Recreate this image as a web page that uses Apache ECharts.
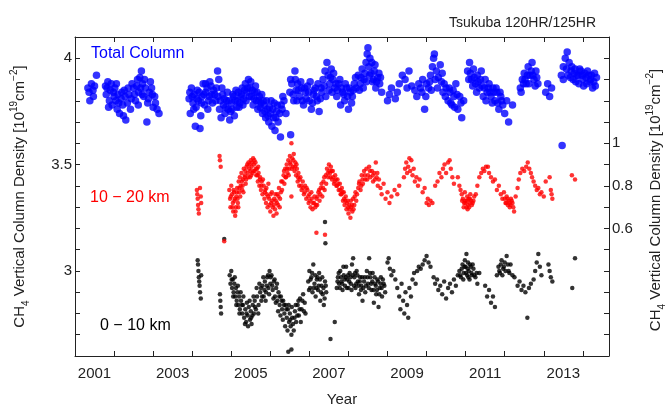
<!DOCTYPE html>
<html>
<head>
<meta charset="utf-8">
<script src="https://cdn.jsdelivr.net/npm/echarts@6/dist/echarts.min.js"></script>
<style>
  html, body { margin: 0; padding: 0; background: #fff; }
  #chart { width: 667px; height: 412px; }
</style>
</head>
<body>
<div id="chart"></div>
<script>
// tick positions and labels
const yearTicks = [2001, 2002, 2003, 2004, 2005, 2006, 2007, 2008, 2009, 2010, 2011, 2012, 2013, 2014];
const yearLabels = [2001, 2003, 2005, 2007, 2009, 2011, 2013];
const leftTickLabels = [3, 3.5, 4];
const rightTickLabels = [0.6, 0.8, 1];

// total column [year, 10^19 cm^-2] (left axis)
const totalColumn = [
  [2001.33,3.86],[2001.38,3.80],[2001.42,3.88],[2001.46,3.85],[2001.5,3.87],[2001.55,3.92],
  [2001.78,3.87],[2001.8,3.83],[2001.84,3.89],[2001.88,3.80],[2001.9,3.85],[2001.95,3.78],[2001.98,3.84],
  [2002.02,3.86],[2002.05,3.80],[2002.08,3.76],[2002.1,3.83],[2002.14,3.74],[2002.18,3.81],[2002.22,3.78],
  [2002.26,3.85],[2002.3,3.71],[2002.34,3.79],[2002.38,3.83],[2002.42,3.76],[2002.46,3.88],[2002.5,3.86],
  [2002.55,3.80],[2002.6,3.90],[2002.63,3.84],[2002.66,3.91],[2002.7,3.94],[2002.73,3.88],[2002.76,3.82],
  [2002.8,3.86],[2002.84,3.70],[2002.86,3.79],[2002.9,3.84],[2002.93,3.89],[2002.96,3.86],[2003.0,3.77],
  [2003.04,3.82],[2003.1,3.76],[2003.15,3.74],
  [2001.36,3.84],[2001.47,3.82],[2001.82,3.86],[2001.86,3.77],[2001.93,3.88],[2002.0,3.82],[2002.06,3.88],
  [2002.12,3.79],[2002.2,3.84],[2002.24,3.73],[2002.28,3.82],[2002.36,3.86],[2002.44,3.81],[2002.52,3.83],
  [2002.58,3.87],[2002.62,3.78],[2002.68,3.86],[2002.72,3.83],[2002.78,3.90],[2002.88,3.81],[2002.98,3.83],
  [2003.06,3.79],
  [2003.92,3.81],[2003.95,3.74],[2003.98,3.86],[2004.02,3.79],[2004.05,3.83],[2004.08,3.68],[2004.1,3.77],
  [2004.13,3.85],[2004.16,3.80],[2004.2,3.67],[2004.22,3.73],[2004.25,3.82],[2004.28,3.88],[2004.32,3.78],
  [2004.35,3.84],[2004.38,3.86],[2004.42,3.80],[2004.45,3.89],[2004.5,3.83],[2004.55,3.85],[2004.6,3.80],
  [2004.65,3.94],[2004.68,3.90],[2004.7,3.76],[2004.74,3.72],[2004.78,3.83],[2004.8,3.78],[2004.84,3.74],
  [2004.88,3.80],[2004.92,3.76],[2004.96,3.71],
  [2003.94,3.84],[2004.0,3.82],[2004.04,3.76],[2004.12,3.81],[2004.18,3.84],[2004.24,3.79],[2004.3,3.83],
  [2004.34,3.88],[2004.4,3.76],[2004.44,3.82],[2004.48,3.87],[2004.52,3.79],[2004.58,3.83],[2004.62,3.86],
  [2004.66,3.82],[2004.72,3.80],[2004.76,3.86],[2004.82,3.81],[2004.86,3.77],[2004.9,3.84],[2004.94,3.80],
  [2004.98,3.75],
  [2005.0,3.79],[2005.04,3.83],[2005.08,3.73],[2005.12,3.85],[2005.16,3.80],[2005.2,3.77],[2005.24,3.82],
  [2005.28,3.86],[2005.32,3.81],[2005.36,3.88],[2005.4,3.84],[2005.44,3.90],[2005.48,3.86],[2005.52,3.82],
  [2005.56,3.78],[2005.6,3.84],[2005.64,3.80],[2005.68,3.76],[2005.72,3.82],[2005.76,3.79],[2005.8,3.74],
  [2005.84,3.78],[2005.88,3.72],[2005.92,3.76],
  [2005.02,3.76],[2005.06,3.82],[2005.1,3.80],[2005.14,3.77],[2005.18,3.84],[2005.22,3.79],[2005.26,3.83],
  [2005.3,3.78],[2005.34,3.85],[2005.38,3.80],[2005.42,3.86],[2005.46,3.82],[2005.5,3.89],[2005.54,3.85],
  [2005.58,3.81],[2005.62,3.87],[2005.66,3.84],[2005.7,3.80],[2005.74,3.77],[2005.78,3.83],[2005.82,3.80],
  [2005.86,3.75],[2005.9,3.80],[2005.94,3.73],[2005.98,3.77],[2006.02,3.80],[2006.06,3.76],[2006.1,3.79],
  [2006.14,3.72],[2006.18,3.78],[2006.24,3.74],[2006.3,3.76],
  [2005.96,3.70],[2006.0,3.74],[2006.04,3.68],[2006.08,3.72],[2006.12,3.66],[2006.16,3.75],[2006.2,3.70],
  [2006.26,3.63],[2006.28,3.78],[2006.32,3.82],[2006.35,3.80],[2006.4,3.74],[2006.52,3.64],[2006.63,3.94],
  [2006.5,3.84],[2006.55,3.88],[2006.6,3.80],[2006.66,3.85],[2006.7,3.88],[2006.75,3.82],[2006.8,3.86],
  [2006.85,3.78],[2006.9,3.84],[2006.95,3.87],[2007.0,3.80],[2007.05,3.76],[2007.1,3.83],[2007.15,3.86],
  [2007.2,3.80],[2007.25,3.75],[2007.3,3.86],
  [2006.52,3.90],[2006.58,3.83],[2006.64,3.90],[2006.68,3.80],[2006.72,3.85],[2006.78,3.89],[2006.82,3.80],
  [2006.88,3.86],[2006.92,3.81],[2006.98,3.84],[2007.02,3.89],[2007.08,3.79],[2007.12,3.85],[2007.18,3.82],
  [2007.22,3.88],[2007.28,3.81],[2007.32,3.84],[2007.38,3.87],[2007.42,3.82],[2007.5,3.85],[2007.54,3.91],
  [2007.58,3.84],[2007.62,3.93],[2007.68,3.88],[2007.72,3.85],[2007.78,3.90],[2007.82,3.86],[2007.88,3.83],
  [2007.92,3.88],[2007.98,3.82],[2008.02,3.86],[2008.08,3.79],[2008.12,3.85],[2008.18,3.91],
  [2007.35,3.90],[2007.4,3.94],[2007.45,3.98],[2007.48,3.92],[2007.52,3.88],[2007.56,3.95],[2007.6,3.90],
  [2007.65,3.86],[2007.7,3.82],[2007.75,3.88],[2007.8,3.78],[2007.85,3.84],[2007.9,3.80],[2007.95,3.86],
  [2008.0,3.76],[2008.05,3.84],[2008.1,3.82],[2008.15,3.88],[2008.2,3.86],
  [2008.25,3.92],[2008.3,3.88],[2008.35,3.95],[2008.4,3.90],[2008.45,3.98],[2008.48,4.02],[2008.5,4.05],
  [2008.52,3.96],[2008.55,4.0],[2008.58,3.93],[2008.62,3.89],[2008.66,3.94],[2008.7,3.86],[2008.75,3.91],
  [2008.8,3.88],[2008.85,3.84],
  [2008.28,3.85],[2008.32,3.91],[2008.38,3.86],[2008.42,3.93],[2008.46,3.89],[2008.54,3.92],[2008.6,3.98],
  [2008.64,3.90],[2008.68,3.97],[2008.72,3.89],[2008.78,3.93],[2008.82,3.91],
  [2009.0,3.80],[2009.1,3.86],[2009.2,3.81],[2009.3,3.88],[2009.38,3.92],[2009.45,3.90],[2009.55,3.94],
  [2009.62,3.87],[2009.7,3.85],[2009.05,3.83],[2009.25,3.84],[2009.5,3.86],[2009.75,3.82],
  [2009.8,3.88],[2009.85,3.86],[2009.9,3.90],[2009.95,3.76],[2010.0,3.88],[2010.05,3.86],[2010.1,3.92],
  [2010.15,3.96],[2010.18,4.00],[2010.2,4.02],[2010.25,3.94],[2010.3,3.91],[2010.35,3.97],[2010.4,3.93],
  [2010.45,3.88],
  [2009.88,3.84],[2009.98,3.82],[2010.08,3.89],[2010.12,3.85],[2010.22,3.90],[2010.28,3.86],[2010.38,3.89],
  [2010.42,3.84],[2010.48,3.82],[2010.58,3.86],[2010.62,3.79],[2010.68,3.85],[2010.72,3.77],[2010.78,3.83],
  [2010.88,3.79],
  [2010.5,3.86],[2010.55,3.80],[2010.6,3.84],[2010.65,3.78],[2010.7,3.82],[2010.75,3.88],[2010.8,3.76],
  [2010.85,3.82],[2010.9,3.72],[2010.95,3.80],
  [2011.05,3.94],[2011.1,3.98],[2011.15,3.90],[2011.2,3.95],[2011.25,3.88],[2011.3,3.92],[2011.35,3.86],
  [2011.4,3.94],[2011.45,3.82],[2011.5,3.90],[2011.55,3.84],
  [2011.08,3.90],[2011.12,3.93],[2011.18,3.87],[2011.22,3.91],[2011.28,3.84],[2011.32,3.89],[2011.38,3.90],
  [2011.42,3.87],[2011.48,3.86],[2011.52,3.80],[2011.58,3.86],[2011.62,3.84],[2011.68,3.79],[2011.72,3.84],
  [2011.78,3.86],[2011.82,3.79],[2011.88,3.84],[2011.92,3.80],
  [2011.6,3.88],[2011.65,3.82],[2011.7,3.86],[2011.75,3.80],[2011.8,3.84],[2011.85,3.76],[2011.9,3.82],
  [2011.95,3.78],[2012.0,3.74],[2012.05,3.80],[2012.1,3.70],[2012.2,3.78],
  [2012.4,3.86],[2012.45,3.90],[2012.5,3.93],[2012.55,3.88],[2012.6,3.96],[2012.65,3.92],[2012.7,3.98],
  [2012.75,3.90],[2012.8,3.94],[2012.85,3.88],
  [2012.42,3.84],[2012.48,3.88],[2012.52,3.90],[2012.58,3.92],[2012.62,3.88],[2012.68,3.94],[2012.72,3.92],
  [2012.78,3.87],[2012.82,3.91],
  [2013.05,3.84],[2013.1,3.88],[2013.15,3.82],[2013.2,3.86],
  [2013.47,3.59],
  [2013.45,3.92],[2013.5,3.96],[2013.55,4.0],[2013.6,4.03],[2013.65,3.98],[2013.7,3.94],[2013.75,3.90],
  [2013.8,3.95],[2013.85,3.92],[2013.9,3.88],[2013.95,3.94],[2014.0,3.90],[2014.05,3.93],[2014.1,3.88],
  [2014.15,3.92],[2014.2,3.90],[2014.25,3.86],[2014.3,3.93],[2014.35,3.91],
  [2013.5,3.90],[2013.58,3.95],[2013.62,3.92],[2013.68,3.91],[2013.72,3.96],[2013.78,3.93],[2013.82,3.89],
  [2013.88,3.92],[2013.92,3.95],[2013.98,3.92],[2014.02,3.87],[2014.08,3.91],[2014.12,3.94],[2014.18,3.89],
  [2014.22,3.92],[2014.28,3.89],[2014.32,3.87]
];

// 10-20 km partial column [year, 10^19 cm^-2] (right axis)
const layer10to20 = [
  [2004.12,0.78],[2004.13,0.76],[2004.14,0.74],[2004.15,0.71],[2004.16,0.69],[2004.17,0.67],[2004.2,0.79],
  [2004.22,0.75],[2004.23,0.72],
  [2004.7,0.94],[2004.71,0.92],[2004.73,0.89],[2004.82,0.54],
  [2004.95,0.78],[2004.97,0.74],[2004.98,0.70],[2005.0,0.80],[2005.02,0.76],[2005.04,0.72],[2005.05,0.68],
  [2005.07,0.77],[2005.08,0.73],[2005.1,0.66],[2005.12,0.70],[2005.13,0.75],[2005.15,0.79],[2005.17,0.72],
  [2005.19,0.82],[2005.2,0.77],[2005.22,0.84],[2005.24,0.80],[2005.26,0.86],[2005.28,0.78],[2005.3,0.83],
  [2005.32,0.88],[2005.35,0.85],[2005.37,0.81],[2005.39,0.89],
  [2005.42,0.86],[2005.44,0.91],[2005.46,0.88],[2005.48,0.84],[2005.5,0.92],[2005.52,0.89],[2005.54,0.86],
  [2005.56,0.93],[2005.58,0.90],[2005.6,0.87],[2005.62,0.91],[2005.64,0.85],[2005.66,0.88],[2005.68,0.82],
  [2005.7,0.86],[2005.72,0.80],[2005.74,0.84],[2005.76,0.78],[2005.78,0.82],[2005.8,0.76],
  [2005.83,0.80],[2005.85,0.74],[2005.87,0.78],[2005.89,0.72],[2005.91,0.76],[2005.93,0.70],[2005.95,0.81],
  [2005.97,0.74],[2006.0,0.68],[2006.02,0.72],[2006.04,0.77],[2006.06,0.70],[2006.08,0.66],[2006.1,0.74],
  [2006.12,0.69],[2006.14,0.73],[2006.16,0.67],[2006.18,0.76],[2006.2,0.71],[2006.22,0.79],[2006.25,0.74],
  [2006.28,0.82],[2006.3,0.78],
  [2006.34,0.85],[2006.36,0.81],[2006.38,0.88],[2006.4,0.84],[2006.42,0.90],[2006.44,0.86],[2006.46,0.92],
  [2006.48,0.88],[2006.5,0.94],[2006.52,0.90],[2006.54,1.0],[2006.54,0.75],[2006.56,0.93],[2006.58,0.89],
  [2006.6,0.95],[2006.62,0.87],[2006.64,0.91],[2006.66,0.85],[2006.68,0.88],[2006.7,0.82],[2006.72,0.86],
  [2006.74,0.80],
  [2006.77,0.84],[2006.8,0.78],[2006.83,0.82],[2006.86,0.76],[2006.89,0.80],[2006.92,0.74],[2006.95,0.78],
  [2006.98,0.72],[2007.0,0.76],[2007.03,0.70],[2007.06,0.74],[2007.08,0.69],[2007.18,0.58],[2007.12,0.72],
  [2007.15,0.70],[2007.18,0.74],[2007.2,0.71],[2007.23,0.77],[2007.26,0.73],[2007.29,0.79],[2007.4,0.57],
  [2007.33,0.75],[2007.36,0.82],[2007.39,0.78],[2007.42,0.85],
  [2007.45,0.88],[2007.48,0.84],[2007.5,0.90],[2007.53,0.86],[2007.55,0.89],[2007.58,0.83],[2007.6,0.87],
  [2007.63,0.81],[2007.66,0.85],[2007.69,0.80],[2007.72,0.83],[2007.75,0.78],
  [2007.78,0.81],[2007.8,0.76],[2007.83,0.79],[2007.86,0.73],[2007.88,0.77],[2007.9,0.71],[2007.93,0.75],
  [2007.95,0.69],[2007.98,0.73],[2008.0,0.67],[2008.02,0.71],[2008.05,0.65],[2008.07,0.70],[2008.1,0.68],
  [2008.12,0.74],[2008.15,0.71],[2008.18,0.77],[2008.2,0.73],
  [2004.99,0.75],[2005.03,0.70],[2005.06,0.78],[2005.09,0.74],[2005.11,0.68],[2005.14,0.77],[2005.16,0.74],
  [2005.18,0.70],[2005.21,0.79],[2005.23,0.75],[2005.27,0.82],[2005.29,0.80],[2005.31,0.77],[2005.34,0.84],
  [2005.36,0.87],[2005.38,0.83],[2005.41,0.90],[2005.43,0.84],[2005.47,0.90],[2005.49,0.87],[2005.51,0.85],
  [2005.53,0.91],[2005.57,0.87],[2005.59,0.92],[2005.63,0.88],[2005.67,0.85],[2005.69,0.89],[2005.73,0.83],
  [2005.77,0.80],[2005.81,0.83],[2005.86,0.77],[2005.9,0.79],[2005.94,0.75],[2005.98,0.71],[2006.01,0.76],
  [2006.05,0.73],[2006.09,0.71],[2006.13,0.76],[2006.17,0.72],[2006.21,0.75],[2006.24,0.70],[2006.27,0.77],
  [2006.31,0.82],[2006.35,0.87],[2006.39,0.84],[2006.43,0.88],[2006.47,0.85],[2006.51,0.91],[2006.55,0.88],
  [2006.59,0.92],[2006.63,0.89],[2006.67,0.90],[2006.71,0.84],[2006.75,0.83],[2006.79,0.80],[2006.84,0.79],
  [2006.88,0.77],[2006.93,0.79],[2006.97,0.75],[2007.01,0.73],[2007.05,0.77],[2007.09,0.72],[2007.13,0.75],
  [2007.17,0.71],[2007.21,0.75],[2007.25,0.78],[2007.28,0.76],[2007.31,0.81],[2007.35,0.79],[2007.38,0.84],
  [2007.43,0.81],[2007.47,0.86],[2007.51,0.87],[2007.54,0.84],[2007.57,0.87],[2007.61,0.84],[2007.65,0.82],
  [2007.68,0.83],[2007.71,0.80],[2007.74,0.81],[2007.79,0.78],[2007.82,0.76],[2007.85,0.77],[2007.89,0.74],
  [2007.92,0.73],[2007.96,0.72],[2007.99,0.70],[2008.03,0.69],[2008.06,0.73],[2008.09,0.71],[2008.13,0.69],
  [2008.16,0.75],[2008.22,0.76],[2008.27,0.81],[2008.33,0.80],[2008.36,0.83],[2008.42,0.85],[2008.48,0.83],
  [2008.55,0.87],[2008.62,0.85],[2008.68,0.83],[2008.74,0.86],
  [2008.25,0.79],[2008.28,0.82],[2008.31,0.78],[2008.34,0.85],[2008.37,0.81],[2008.4,0.87],[2008.43,0.83],
  [2008.46,0.88],[2008.5,0.85],[2008.53,0.89],[2008.56,0.84],[2008.6,0.87],[2008.63,0.82],[2008.66,0.86],
  [2008.7,0.91],[2008.72,0.84],[2008.75,0.80],[2008.78,0.83],
  [2008.82,0.79],[2008.85,0.76],[2008.9,0.81],[2008.95,0.74],[2009.0,0.77],[2009.05,0.72],[2009.1,0.75],
  [2009.18,0.78],[2009.25,0.76],[2009.3,0.80],
  [2009.42,0.84],[2009.45,0.88],[2009.48,0.91],[2009.5,0.86],[2009.53,0.89],[2009.56,0.93],[2009.58,0.87],
  [2009.61,0.92],[2009.64,0.85],[2009.67,0.88],[2009.7,0.82],[2009.74,0.84],[2009.78,0.80],[2009.82,0.83],
  [2009.9,0.77],[2009.95,0.79],[2010.0,0.72],[2010.03,0.74],[2010.06,0.71],[2010.1,0.73],[2010.15,0.72],
  [2010.22,0.80],[2010.28,0.82],[2010.33,0.86],[2010.38,0.84],[2010.42,0.88],[2010.46,0.90],[2010.5,0.86],
  [2010.55,0.91],[2010.59,0.92],[2010.62,0.88],[2010.66,0.84],[2010.7,0.81],
  [2010.8,0.84],[2010.84,0.80],[2010.87,0.78],[2010.9,0.76],[2010.93,0.74],[2010.96,0.72],[2010.98,0.77],
  [2011.0,0.73],[2011.02,0.70],[2011.04,0.75],[2011.06,0.71],[2011.08,0.74],[2011.1,0.72],[2011.12,0.76],
  [2011.16,0.71],[2011.2,0.73],[2011.26,0.76],[2011.3,0.80],
  [2010.91,0.73],[2010.95,0.70],[2010.99,0.72],[2011.03,0.73],[2011.05,0.69],[2011.09,0.70],[2011.11,0.74],
  [2011.14,0.73],[2011.18,0.72],[2011.22,0.75],
  [2011.35,0.84],[2011.4,0.86],[2011.44,0.88],[2011.48,0.87],[2011.52,0.89],[2011.57,0.89],[2011.6,0.86],
  [2011.65,0.84],[2011.7,0.82],[2011.75,0.83],[2011.8,0.78],[2011.85,0.80],
  [2011.9,0.76],[2011.94,0.74],[2011.98,0.77],[2012.02,0.72],[2012.05,0.75],[2012.08,0.71],[2012.1,0.73],
  [2012.13,0.70],[2012.16,0.74],[2012.2,0.72],[2012.24,0.68],[2012.28,0.75],[2012.33,0.79],[2012.36,0.83],
  [2012.0,0.74],[2012.04,0.72],[2012.07,0.74],[2012.12,0.72],[2012.15,0.71],[2012.18,0.73],[2012.22,0.70],
  [2012.4,0.86],[2012.45,0.88],[2012.5,0.87],[2012.55,0.89],[2012.59,0.91],[2012.63,0.88],[2012.67,0.86],
  [2012.7,0.84],
  [2012.74,0.82],[2012.78,0.80],[2012.82,0.78],[2012.86,0.79],[2012.9,0.76],[2012.94,0.77],[2013.0,0.75],
  [2013.05,0.82],[2013.15,0.84],[2013.18,0.78],[2013.2,0.76],[2013.22,0.74],
  [2013.72,0.85],[2013.8,0.83]
];

// 0-10 km partial column [year, 10^19 cm^-2] (left axis)
const layer0to10 = [
  [2004.14,3.05],[2004.15,3.03],[2004.16,3.0],[2004.17,2.97],[2004.18,2.95],[2004.19,2.93],[2004.2,2.90],
  [2004.22,2.87],[2004.23,2.98],
  [2004.71,2.89],[2004.72,2.86],[2004.73,2.83],[2004.74,2.80],[2004.82,3.15],
  [2004.96,2.98],[2004.98,2.94],[2005.0,3.0],[2005.02,2.92],[2005.04,2.96],[2005.06,2.90],[2005.08,2.94],
  [2005.1,2.88],[2005.12,2.92],[2005.14,2.86],[2005.16,2.90],[2005.18,2.84],[2005.2,2.88],[2005.22,2.82],
  [2005.25,2.86],[2005.28,2.80],[2005.3,2.84],[2005.33,2.78],[2005.36,2.82],[2005.38,2.76],[2005.4,2.85],
  [2005.42,2.79],[2005.45,2.83],[2005.48,2.77],[2005.5,2.81],[2005.52,2.75],[2005.55,2.84],[2005.58,2.80],
  [2005.6,2.86],[2005.63,2.82],[2005.66,2.88],[2005.7,2.84],
  [2005.01,2.96],[2005.05,2.88],[2005.09,2.97],[2005.13,2.84],[2005.17,2.93],[2005.21,2.80],[2005.24,2.90],
  [2005.27,2.84],[2005.31,2.88],[2005.35,2.75],[2005.39,2.80],[2005.43,2.74],[2005.47,2.86],[2005.51,2.78],
  [2005.54,2.79],[2005.57,2.88],[2005.61,2.83],[2005.65,2.92],[2005.69,2.80],[2005.72,2.94],[2005.76,2.92],
  [2005.79,2.88],[2005.82,2.97],[2005.85,2.91],[2005.88,2.86],[2005.91,2.93],[2005.94,2.98],[2005.97,2.89],
  [2006.01,2.97],[2006.05,2.93],[2006.08,2.87],[2006.11,2.96],[2006.14,2.85],[2006.17,2.94],[2006.2,2.81],
  [2006.23,2.88],[2006.26,2.79],[2006.29,2.86],[2006.32,2.77],[2006.35,2.84],[2006.38,2.74],[2006.41,2.82],
  [2006.44,2.72],[2006.47,2.84],[2006.51,2.77],[2006.55,2.83],[2006.58,2.75],[2006.62,2.78],[2006.65,2.84],
  [2006.69,2.79],[2006.72,2.86],[2006.75,2.82],[2006.78,2.76],[2006.82,2.86],[2006.86,2.81],
  [2005.74,2.90],[2005.77,2.86],[2005.8,2.93],[2005.83,2.88],[2005.86,2.95],[2005.89,2.90],[2005.92,2.97],
  [2005.95,2.92],[2005.98,3.0],[2006.0,2.94],[2006.03,2.98],[2006.06,2.91],[2006.09,2.95],[2006.12,2.88],
  [2006.15,2.92],[2006.18,2.86],[2006.21,2.90],[2006.24,2.84],[2006.27,2.88],[2006.3,2.82],
  [2006.33,2.86],[2006.36,2.80],[2006.39,2.84],[2006.42,2.78],[2006.45,2.82],[2006.46,2.62],[2006.48,2.76],
  [2006.5,2.80],[2006.52,2.74],[2006.54,2.63],[2006.54,2.70],[2006.56,2.78],[2006.6,2.72],[2006.63,2.81],
  [2006.66,2.76],[2006.7,2.84],[2006.73,2.79],[2006.76,2.87],[2006.8,2.82],[2006.84,2.89],[2006.88,2.85],
  [2006.9,2.80],
  [2006.97,2.95],[2007.0,3.0],[2007.02,2.92],[2007.05,2.97],[2007.08,2.90],[2007.1,3.03],[2007.13,2.94],
  [2007.16,2.88],[2007.19,2.96],[2007.22,2.91],[2007.25,2.99],[2007.28,2.86],[2007.31,2.93],[2007.34,2.89],
  [2007.37,2.84],[2007.4,2.95],[2007.43,2.90],[2007.4,3.23],[2007.41,3.13],[2007.54,2.68],[2007.65,2.76],
  [2006.99,2.91],[2007.03,2.96],[2007.07,2.99],[2007.11,2.92],[2007.15,2.98],[2007.18,2.92],[2007.21,2.97],
  [2007.24,2.93],[2007.27,2.96],[2007.3,2.90],[2007.33,2.97],[2007.36,2.92],[2007.39,2.87],[2007.42,2.93],
  [2007.7,2.92],[2007.73,2.97],[2007.76,2.94],[2007.79,3.0],[2007.82,2.95],[2007.85,2.91],[2007.88,2.98],
  [2007.91,2.93],[2007.94,3.02],[2007.97,2.96],[2008.0,2.92],[2008.03,2.99],[2008.06,2.94],[2008.09,3.03],
  [2008.12,3.06],[2008.15,2.97],[2008.18,2.92],[2008.21,3.0],[2008.24,2.95],[2008.27,2.89],[2008.3,2.97],
  [2008.33,2.93],[2008.36,2.86],[2008.4,2.95],[2008.43,2.90],
  [2007.72,2.95],[2007.75,2.99],[2007.78,2.92],[2007.81,2.97],[2007.84,2.94],[2007.87,3.02],[2007.9,2.96],
  [2007.93,2.97],[2007.96,2.92],[2007.99,2.98],[2008.02,2.95],[2008.05,2.97],[2008.08,2.91],[2008.11,2.98],
  [2008.14,2.93],[2008.17,2.99],[2008.2,2.94],[2008.23,2.98],[2008.26,2.93],[2008.29,2.95],[2008.32,2.91],
  [2008.35,2.97],[2008.38,2.92],[2008.42,2.97],[2008.45,2.93],[2008.49,2.97],[2008.52,2.92],[2008.55,2.99],
  [2008.58,2.94],[2008.61,2.95],[2008.64,2.91],[2008.67,2.97],[2008.7,2.93],[2008.73,2.91],[2008.76,2.95],
  [2008.79,2.89],[2008.82,2.94],[2008.85,2.92],[2008.88,2.96],[2008.92,2.93],
  [2008.47,3.0],[2008.5,2.94],[2008.53,3.06],[2008.56,2.97],[2008.59,2.91],[2008.62,2.99],[2008.65,2.85],
  [2008.68,2.94],[2008.71,2.89],[2008.74,2.96],[2008.77,2.83],[2008.8,2.92],[2008.83,2.97],[2008.86,2.88],
  [2008.9,2.94],[2008.94,2.90],
  [2009.0,3.04],[2009.03,3.06],[2009.06,3.01],[2009.1,2.98],[2009.15,3.0],[2009.2,2.96],
  [2009.25,2.92],[2009.3,2.88],[2009.33,2.82],[2009.36,2.94],[2009.4,2.86],[2009.43,2.80],[2009.46,2.90],
  [2009.5,2.84],[2009.53,2.78],[2009.56,2.92],[2009.6,2.88],[2009.64,2.96],[2009.68,2.99],[2009.72,2.94],
  [2009.76,3.0],[2009.8,3.02],[2009.85,3.01],[2009.9,3.03],[2009.95,3.05],[2010.0,3.07],[2010.05,3.04],
  [2010.1,3.02],
  [2010.18,2.97],[2010.22,2.94],[2010.27,2.96],[2010.3,2.91],[2010.35,2.93],[2010.4,2.89],[2010.45,2.95],
  [2010.5,2.87],[2010.55,2.92],[2010.6,2.94],[2010.65,2.90],[2010.7,2.96],[2010.75,2.93],[2010.8,2.98],
  [2010.84,3.0],[2010.88,2.97],[2010.92,3.03],[2010.95,2.99],[2010.98,3.05],[2011.0,3.02],[2011.02,3.08],
  [2011.04,2.98],[2011.06,3.04],[2011.08,3.0],[2011.1,2.96],[2011.13,3.02],[2011.16,2.98],[2011.2,3.01],
  [2011.25,2.97],[2011.3,2.94],[2011.35,2.99],
  [2010.86,2.98],[2010.9,3.01],[2010.94,2.96],[2010.97,3.02],[2011.01,2.99],[2011.05,3.01],[2011.07,2.97],
  [2011.11,3.03],[2011.15,2.99],[2011.18,3.03],[2011.22,2.98],[2011.28,2.99],
  [2011.5,2.93],[2011.55,2.88],[2011.6,2.91],[2011.65,2.85],[2011.7,2.88],[2011.75,2.83],
  [2011.8,2.98],[2011.84,3.02],[2011.88,2.99],[2011.92,3.05],[2011.96,3.01],[2012.0,3.04],[2012.05,3.07],
  [2012.1,3.0],[2012.15,3.03],[2012.2,2.98],[2012.25,2.97],
  [2011.86,3.0],[2011.9,3.03],[2011.94,2.98],[2011.98,3.02],[2012.02,3.0],[2012.08,3.03],[2012.12,2.99],
  [2012.33,2.93],[2012.38,2.95],[2012.43,2.91],[2012.48,2.93],[2012.53,2.90],[2012.58,2.78],[2012.62,2.92],
  [2012.67,2.94],
  [2012.74,2.96],[2012.78,3.0],[2012.82,3.04],[2012.86,3.08],[2012.9,3.02],[2012.94,2.98],
  [2013.12,3.03],[2013.15,3.0],[2013.18,2.97],[2013.22,2.95],
  [2013.73,2.92],[2013.8,3.06]
];

let myChart = echarts.init(document.getElementById('chart'));

const ink = '#222';
const axisName = '{t|CH}{sub|4}{t| Vertical Column Density [10}{sup|19}{t|cm}{sup|−2}{t|]}';
const nameRich = {
    t: { fontSize: 15, color: ink, fill: ink, fontFamily: 'Liberation Sans', lineHeight: 22 },
    sub: { fontSize: 10, color: ink, fill: ink, fontFamily: 'Liberation Sans', verticalAlign: 'bottom', lineHeight: 22 },
    sup: { fontSize: 10, color: ink, fill: ink, fontFamily: 'Liberation Sans', verticalAlign: 'top', lineHeight: 22 }
};

function xAxisOf(pos, showLabel) {
    return {
        type: 'value',
        position: pos,
        min: 2001,
        max: 2014.67,
        name: showLabel ? 'Year' : '',
        nameLocation: 'middle',
        nameGap: 36,
        nameTextStyle: { fontSize: 15, color: ink },
        axisLine: { show: true, onZero: false, lineStyle: { color: ink, width: 1 } },
        axisTick: { show: true, inside: true, length: 5, customValues: yearTicks, lineStyle: { color: ink } },
        axisLabel: {
            show: showLabel,
            // labels sit in the middle of each year
            customValues: yearLabels.map(y => y + 0.5),
            formatter: v => String(Math.floor(v)),
            fontSize: 15,
            color: ink,
            margin: 10
        },
        splitLine: { show: false }
    };
}

function yAxisOf(pos, lo, hi, labels) {
    return {
        type: 'value',
        position: pos,
        min: lo,
        max: hi,
        interval: 0.1,
        // the right-hand title is drawn as a graphic so it does not squeeze the grid
        name: pos === 'left' ? axisName : '',
        nameLocation: 'middle',
        nameRotate: 90,
        nameGap: 44,
        nameTextStyle: { rich: nameRich },
        axisLine: { show: true, onZero: false, lineStyle: { color: ink, width: 1 } },
        axisTick: { show: true, inside: true, length: 5, lineStyle: { color: ink } },
        axisLabel: {
            customValues: labels,
            fontSize: 15,
            color: ink,
            margin: 3
        },
        splitLine: { show: false }
    };
}

let option = {
    animation: false,
    textStyle: { fontFamily: 'Liberation Sans' },
    title: {
        text: 'Tsukuba 120HR/125HR',
        right: 66,
        top: 11,
        textStyle: { fontSize: 14, fontWeight: 'normal', color: ink }
    },
    grid: {
        left: 75,
        right: 58,
        top: 37,
        bottom: 49
    },
    xAxis: [xAxisOf('bottom', true), xAxisOf('top', false)],
    yAxis: [yAxisOf('left', 2.6, 4.1, leftTickLabels), yAxisOf('right', 0, 1.5, rightTickLabels)],
    graphic: [
        { type: 'text', left: 91, top: 46, style: { text: 'Total Column', fill: '#0000ff', font: '16px "Liberation Sans"' } },
        { type: 'text', left: 90, top: 190, style: { text: '10 − 20 km', fill: '#ff0000', font: '16px "Liberation Sans"' } },
        { type: 'text', left: 100, top: 318, style: { text: '0 − 10 km', fill: '#000', font: '16px "Liberation Sans"' } },
        {
            type: 'text',
            x: 656,
            y: 200,
            rotation: Math.PI / 2,
            style: { text: axisName, rich: nameRich, align: 'center', verticalAlign: 'middle', fill: ink }
        }
    ],
    series: [{
        name: '0-10 km',
        type: 'scatter',
        xAxisIndex: 0,
        yAxisIndex: 0,
        symbolSize: 4.5,
        itemStyle: { color: '#000' },
        data: layer0to10
    }, {
        name: '10-20 km',
        type: 'scatter',
        xAxisIndex: 0,
        yAxisIndex: 1,
        symbolSize: 4.5,
        itemStyle: { color: '#ff0000' },
        data: layer10to20
    }, {
        name: 'Total Column',
        type: 'scatter',
        xAxisIndex: 0,
        yAxisIndex: 0,
        symbolSize: 7.5,
        itemStyle: { color: '#0000ff' },
        data: totalColumn
    }]
};

myChart.setOption(option);
</script>
</body>
</html>
